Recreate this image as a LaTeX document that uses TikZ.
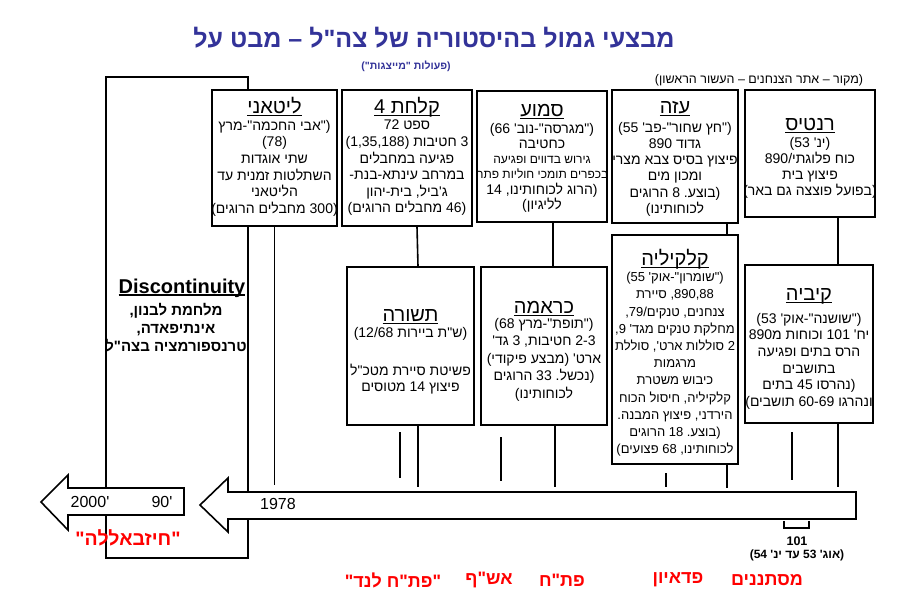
\documentclass[tikz,border=0pt]{standalone}
\usepackage{fontspec}
\newfontfamily\heb[Script=Hebrew]{Liberation Sans}
\usetikzlibrary{positioning}
\TeXXeTstate=1
\definecolor{titleblue}{RGB}{51,51,153}

% one line of hebrew, right to left
\newcommand\rtl[1]{\beginR#1\endR}
% punctuation kept apart from the hebrew words
\newcommand\hlp{\hbox{(}}
\newcommand\hrp{\hbox{)}}
\newcommand\hqt{\hbox{"}}
\newcommand\hhy{\hbox{-}}
\newcommand\hcm{\hbox{,}}
\newcommand\hap{\hbox{'}}
\newcommand\hsl{\hbox{/}}
% underline at a fixed distance below the baseline
\newcommand\ulbox[3]{\setbox0\hbox{#3}\rlap{\rule[#1]{\wd0}{#2}}\box0}
\newcommand\boxttltext[1]{\ulbox{-3.2pt}{1.3pt}{\rtl{#1}}}

\tikzset{
  evbox/.style={draw, line width=1.6pt, fill=white, inner sep=0pt},
  boxttl/.style={anchor=base, inner sep=0pt, font=\heb\fontsize{20}{20}\selectfont},
  boxtext/.style={anchor=north, align=center, inner sep=0pt, font=\heb\fontsize{14}{16.6}\selectfont},
  link/.style={line width=1.6pt},
  frame/.style={line width=1.3pt},
  tlarrow/.style={draw, line width=1.6pt, fill=white},
  yearlabel/.style={font=\heb\fontsize{16}{16}\selectfont, inner sep=0pt},
  eralabel/.style={font=\heb\bfseries\fontsize{18}{18}\selectfont, text=red, inner sep=0pt},
}

\begin{document}
\begin{tikzpicture}[x=1pt,y=-1pt]
\useasboundingbox (0,0) rectangle (916,616);

% title
\node[font=\heb\bfseries\fontsize{25}{25}\selectfont, text=titleblue] (title) at (434,38)
  {\rtl{מבצעי גמול בהיסטוריה של צה"ל – מבט על}};
\node[font=\heb\bfseries\fontsize{10.5}{10.5}\selectfont, text=titleblue] (subtitle) at (406,66)
  {\rtl{\hlp פעולות \hqt מייצגות\hqt\hrp}};
\node[font=\heb\fontsize{12.5}{12.5}\selectfont] (source) at (759,80)
  {\rtl{\hlp מקור – אתר הצנחנים – העשור הראשון\hrp}};

% the later years
\draw[frame] (106,77) rectangle (248,558);
\node[anchor=base, inner sep=0pt, font=\heb\bfseries\fontsize{20}{22}\selectfont] (disc) at (182,293)
  {\ulbox{-3pt}{1.6pt}{Discontinuity}};
\node[align=center, anchor=north, inner sep=0pt,
  font=\heb\bfseries\fontsize{15}{18}\selectfont] (disc-txt) at (176,303)
  {\rtl{מלחמת לבנון\hcm}\\
   \rtl{אינתיפאדה\hcm}\\
   \rtl{טרנספורמציה בצה"ל}};

% upper row
\node[evbox, minimum width=125, minimum height=136] (litani) at (274.5,158) {};
\node[boxttl] (litani-ttl) at (274.5,113) {\boxttltext{ליטאני}};
\node[boxtext] (litani-txt) at (274.5,120)
  {\rtl{\hlp\hqt אבי החכמה\hqt\hhy מרץ}\\
   \rtl{\hlp 78\hrp}\\
   \rtl{שתי אוגדות}\\
   \rtl{השתלטות זמנית עד}\\
   \rtl{הליטאני}\\
   \rtl{\hlp 300 מחבלים הרוגים\hrp}};
\node[evbox, minimum width=130, minimum height=136] (kalahat) at (407,158) {};
\node[boxttl] (kalahat-ttl) at (407,113) {\boxttltext{קלחת 4}};
\node[boxtext] (kalahat-txt) at (407,120)
  {\rtl{ספט 72}\\
   \rtl{3 חטיבות (1,35,188)}\\
   \rtl{פגיעה במחבלים}\\
   \rtl{במרחב עינתא\hhy בנת\hhy}\\
   \rtl{ג'ביל\hcm{} בית\hhy יהון}\\
   \rtl{\hlp 46 מחבלים הרוגים\hrp}};
\node[evbox, minimum width=130, minimum height=131] (samua) at (542,156.5) {};
\node[boxttl] (samua-ttl) at (542,116) {\boxttltext{סמוע}};
\node[boxtext, font=\heb\fontsize{14}{15.2}\selectfont] (samua-txt) at (542,123)
  {\rtl{\hlp\hqt מגרסה\hqt\hhy נוב\hap{} 66\hrp}\\
   \rtl{כחטיבה}\\
   {\fontsize{12}{15}\selectfont\rtl{גירוש בדווים ופגיעה}}\\
   {\fontsize{12}{15}\selectfont\rtl{בכפרים תומכי חוליות פתח}}\\
   \rtl{\hlp הרוג לכוחותינו\hcm{} 14}\\
   \rtl{לליגיון\hrp}};
\node[evbox, minimum width=126, minimum height=133] (gaza) at (675,156.5) {};
\node[boxttl] (gaza-ttl) at (675,113) {\boxttltext{עזה}};
\node[boxtext, font=\heb\fontsize{14}{16.2}\selectfont] (gaza-txt) at (675,122)
  {\rtl{\hlp\hqt חץ שחור\hqt\hhy פב\hap{} 55\hrp}\\
   \rtl{גדוד 890}\\
   \rtl{פיצוץ בסיס צבא מצרי}\\
   \rtl{ומכון מים}\\
   \rtl{\hlp בוצע\hbox{.} 8 הרוגים}\\
   \rtl{לכוחותינו\hrp}};
\node[evbox, minimum width=130, minimum height=127] (rantis) at (810,153.5) {};
\node[boxttl] (rantis-ttl) at (810,130) {\boxttltext{רנטיס}};
\node[boxtext, font=\heb\fontsize{14}{16}\selectfont] (rantis-txt) at (810,137)
  {\rtl{\hlp ינ\hap{} 53\hrp}\\
   \rtl{כוח פלוגתי\hsl 890}\\
   \rtl{פיצוץ בית}\\
   \rtl{\hlp בפועל פוצצה גם באר\hrp}};

% lower row
\node[evbox, minimum width=127, minimum height=158] (teshura) at (410.5,346) {};
\node[boxttl] (teshura-ttl) at (410.5,321) {\boxttltext{תשורה}};
\node[boxtext, font=\heb\fontsize{14}{16}\selectfont] (teshura-txt) at (410.5,327)
  {\rtl{\hlp ש"ת ביירות 12/68\hrp}\\[22pt]
   \rtl{פשיטת סיירת מטכ"ל}\\
   \rtl{פיצוץ 14 מטוסים}};
\node[evbox, minimum width=126, minimum height=158] (karame) at (544,346) {};
\node[boxttl] (karame-ttl) at (544,313) {\boxttltext{כראמה}};
\node[boxtext, font=\heb\fontsize{14}{17.5}\selectfont] (karame-txt) at (544,318)
  {\rtl{\hlp\hqt תופת\hqt\hhy מרץ 68\hrp}\\
   \rtl{2-3 חטיבות\hcm{} 3 גד\hap}\\
   \rtl{ארט\hap{} \hlp מבצע פיקודי\hrp}\\
   \rtl{\hlp נכשל\hbox{.} 33 הרוגים}\\
   \rtl{לכוחותינו\hrp}};
\node[evbox, minimum width=126, minimum height=229] (kalkilya) at (675,349.5) {};
\node[boxttl] (kalkilya-ttl) at (675,265) {\boxttltext{קלקיליה}};
\node[boxtext, font=\heb\fontsize{13}{17.2}\selectfont] (kalkilya-txt) at (675,272)
  {\rtl{\hlp\hqt שומרון\hqt\hhy אוק\hap{} 55\hrp}\\
   \rtl{890,88\hcm{} סיירת}\\
   \rtl{צנחנים\hcm{} טנקים\hsl 79\hcm}\\
   \rtl{מחלקת טנקים מגד\hap{} 9\hcm}\\
   \rtl{2 סוללות ארט\hap\hcm{} סוללת}\\
   \rtl{מרגמות}\\
   \rtl{כיבוש משטרת}\\
   \rtl{קלקיליה\hcm{} חיסול הכוח}\\
   \rtl{הירדני\hcm{} פיצוץ המבנה\hbox{.}}\\
   \rtl{\hlp בוצע\hbox{.} 18 הרוגים}\\
   \rtl{לכוחותינו\hcm{} 68 פצועים\hrp}};
\node[evbox, minimum width=128, minimum height=158] (kibya) at (809,344) {};
\node[boxttl] (kibya-ttl) at (809,300) {\boxttltext{קיביה}};
\node[boxtext] (kibya-txt) at (809,313)
  {\rtl{\hlp\hqt שושנה\hqt\hhy אוק\hap{} 53\hrp}\\
   \rtl{יח\hap{} 101 וכוחות מ\hbox{890}}\\
   \rtl{הרס בתים ופגיעה}\\
   \rtl{בתושבים}\\
   \rtl{\hlp נהרסו 45 בתים}\\
   \rtl{ונהרגו 60-69 תושבים\hrp}};

% connectors
\coordinate (tl) at (0,485);
\draw[link] (litani.south) -- (litani.south |- tl);
\draw[link] ([xshift=10]kalahat.south) -- ([xshift=7.5]teshura.north);
\draw[link] ([xshift=7.5]teshura.south) -- ([xshift=7.5,yshift=-2]teshura.south |- tl);
\draw[link] (400,432) -- (400,478);
\draw[link] ([xshift=11]samua.south) -- ([xshift=9]karame.north);
\draw[link] ([xshift=11]karame.south) -- ([xshift=11,yshift=-2]karame.south |- tl);
\draw[link] (501,437) -- (501,481);
\draw[link] ([xshift=52]gaza.south) -- ([xshift=52]kalkilya.north);
\draw[link] ([xshift=52]kalkilya.south) -- ([xshift=52,yshift=-3]kalkilya.south |- tl);
\draw[link] (666,473) -- (666,487);
\draw[link] ([xshift=28]rantis.south) -- ([xshift=29]kibya.north);
\draw[link] ([xshift=29]kibya.south) -- ([xshift=29,yshift=-2]kibya.south |- tl);
\draw[link] (792,432) -- (792,480);

% time line
\draw[tlarrow] (200,505) -- (228,478) -- (228,492) -- (856,492) -- (856,519)
  -- (228,519) -- (228,532) -- cycle;
\draw[tlarrow] (41,502) -- (68,475) -- (68,488) -- (184,488) -- (184,515)
  -- (68,515) -- (68,530) -- cycle;
\node[yearlabel] (y1978) at (278,504) {1978};
\node[yearlabel] (y90) at (162,502) {'90};
\node[yearlabel] (y2000) at (90,502) {'2000};

% unit 101
\draw[line width=1.8pt] (784,521) -- (784,528) -- (809,528) -- (809,521);
\node[font=\heb\bfseries\fontsize{12.5}{12.5}\selectfont] (u101) at (797,541) {101};
\node[font=\heb\bfseries\fontsize{12}{12}\selectfont] (u101date) at (797,555)
  {\rtl{\hlp אוג\hap{} 53 עד ינ\hap{} 54\hrp}};

% the enemy of each era
\node[eralabel, font=\heb\bfseries\fontsize{19.5}{19.5}\selectfont] (hizb) at (128,538)
  {\rtl{\hqt חיזבאללה\hqt}};
\node[eralabel] (fatahland) at (393,580) {\rtl{\hqt פת"ח לנד\hqt}};
\node[eralabel] (ashaf) at (489,580) {\rtl{אש"ף}};
\node[eralabel] (fatah) at (562,580) {\rtl{פת"ח}};
\node[eralabel] (fedayun) at (678,580) {\rtl{פדאיון}};
\node[eralabel] (mistanenim) at (767,580) {\rtl{מסתננים}};
\end{tikzpicture}
\end{document}
